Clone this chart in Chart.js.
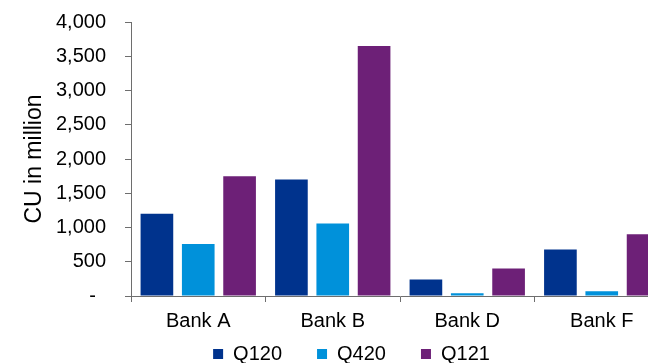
<!DOCTYPE html>
<html>
<head>
<meta charset="utf-8">
<script src="https://cdn.jsdelivr.net/npm/chart.js@4"></script>
<style>
  html, body { margin: 0; padding: 0; overflow: hidden; background: #fff; }
  #wrap { position: absolute; left: 0; top: 0; width: 703px; height: 374px; }
</style>
</head>
<body>
<div id="wrap"><canvas id="c" width="703" height="374"></canvas></div>
<script>
const categories = ['Bank A', 'Bank B', 'Bank D', 'Bank F'];
const seriesNames = ['Q120', 'Q420', 'Q121'];
const q120 = [1200, 1700, 240, 680];
const q420 = [760, 1060, 40, 70];
const q121 = [1750, 3650, 400, 900];
const yTicks = [0, 500, 1000, 1500, 2000, 2500, 3000, 3500, 4000];
const yTitle = 'CU in million';

const colors = ['#00338D', '#0091DA', '#6D2077'];
const FONT = "'Liberation Sans', Arial, sans-serif";
const axisColor = '#6e6e6e';

new Chart(document.getElementById('c'), {
  type: 'bar',
  data: {
    labels: categories,
    datasets: [q120, q420, q121].map((d, i) => ({
      label: seriesNames[i],
      data: d,
      backgroundColor: colors[i],
      borderWidth: 0,
      categoryPercentage: 0.922,
      barPercentage: 0.79
    }))
  },
  options: {
    responsive: false,
    animation: false,
    devicePixelRatio: 1,
    layout: { padding: { left: 0, right: 0, top: 22, bottom: 0 } },
    plugins: {
      tooltip: { enabled: false },
      legend: {
        position: 'bottom',
        labels: {
          boxWidth: 10,
          boxHeight: 10,
          padding: 35,
          color: '#000',
          font: { family: FONT, size: 20 }
        }
      }
    },
    scales: {
      x: {
        grid: { display: true, drawOnChartArea: false, drawTicks: true, tickLength: 6, color: axisColor, offset: true },
        border: { display: true, color: axisColor, width: 1 },
        ticks: { color: '#000', font: { family: FONT, size: 20 }, padding: 7, maxRotation: 0, autoSkip: false },
        afterFit: s => {
          s.height = 13;
          s._computeLabelArea = () => undefined;
        }
      },
      y: {
        min: 0,
        max: 4000,
        afterBuildTicks: s => { s.ticks = yTicks.map(v => ({ value: v })); },
        grid: { display: true, drawOnChartArea: false, drawTicks: true, tickLength: 6, color: axisColor },
        border: { display: true, color: axisColor, width: 1 },
        ticks: {
          color: '#000',
          font: { family: FONT, size: 20 },
          padding: 19,
          callback: v => v === 0 ? '-\u2002' : v.toLocaleString('en-US')
        },
        title: {
          display: true,
          text: yTitle,
          color: '#000',
          font: { family: FONT, size: 23 },
          padding: { top: 21, bottom: 0 }
        },
        afterFit: s => {
          s.width = 131;
          s.paddingTop = 0;
          s.paddingBottom = 0;
        }
      },
      yR: {
        position: 'right',
        display: true,
        grid: { display: false },
        border: { display: false },
        ticks: { display: false },
        afterFit: s => { s.width = 34; }
      }
    }
  }
});
</script>
</body>
</html>
